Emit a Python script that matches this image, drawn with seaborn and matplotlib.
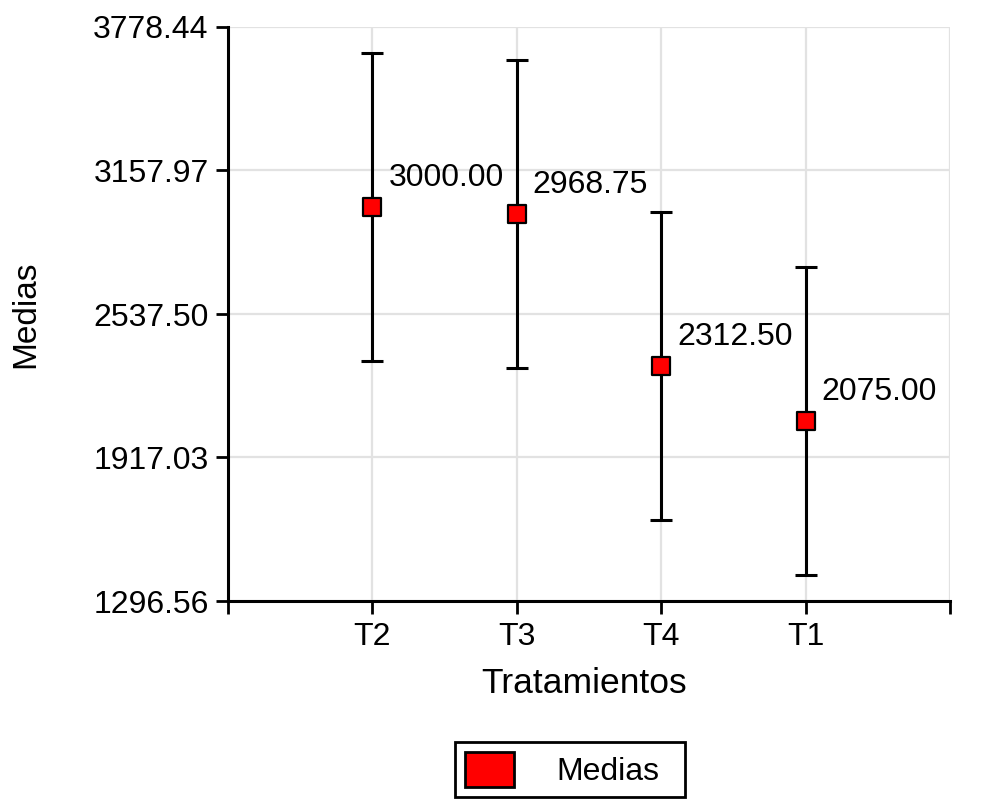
import numpy as np
import pandas as pd
import matplotlib
matplotlib.use("Agg")
import matplotlib.pyplot as plt
from matplotlib.patches import Patch
import seaborn as sns

# ---- data ----
tratamientos = ["T2", "T3", "T4", "T1"]
medias = [3000.00, 2968.75, 2312.50, 2075.00]
errores = [665.0, 665.0, 665.0, 665.0]
y_ticks = [1296.56, 1917.03, 2537.50, 3157.97, 3778.44]
y_tick_labels = ["1296.56", "1917.03", "2537.50", "3157.97", "3778.44"]
x_label = "Tratamientos"
y_label = "Medias"
legend_label = "Medias"

sns.set_style("white")
plt.rcParams["font.family"] = ["Liberation Sans", "DejaVu Sans"]
plt.rcParams["text.color"] = "black"

df = pd.DataFrame({"Tratamiento": tratamientos, "Media": medias, "Error": errores})

fig = plt.figure(figsize=(9.97, 8.05), dpi=100)
ax = fig.add_axes([228 / 997, 1 - 601 / 805, (950 - 228) / 997, (601 - 27) / 805])

xpos = np.arange(len(tratamientos))

# error bars
ax.errorbar(xpos, df["Media"], yerr=df["Error"], fmt="none", ecolor="black",
            elinewidth=2.2, capsize=8, capthick=2.2, zorder=2)

# points
sns.scatterplot(data=df, x="Tratamiento", y="Media", marker="s", s=150,
                color="#ff0000", edgecolor="black", linewidth=1.6,
                ax=ax, zorder=3, legend=False)

# value labels
for i, m in enumerate(df["Media"]):
    ax.annotate(f"{m:.2f}", (i, m), xytext=(11.5, 21), textcoords="offset points",
                ha="left", va="center", fontsize=23, color="black")

ax.set_xlim(-1, len(tratamientos))
ax.set_xticks(np.arange(-1, len(tratamientos) + 1))
ax.set_xticklabels([""] + tratamientos + [""])
ax.set_ylim(y_ticks[0], y_ticks[-1])
ax.set_yticks(y_ticks)
ax.set_yticklabels(y_tick_labels)

ax.grid(True, color="#e2e2e2", linewidth=1.6, zorder=0)
ax.set_axisbelow(True)

for s in ["top", "right"]:
    ax.spines[s].set_visible(False)
for s in ["left", "bottom"]:
    ax.spines[s].set_color("black")
    ax.spines[s].set_linewidth(2.2)

ax.tick_params(axis="both", which="major", bottom=True, left=True,
               direction="out", length=9, width=2, color="black",
               labelsize=23, labelcolor="black")
ax.tick_params(axis="y", pad=5)
ax.tick_params(axis="x", pad=6)

ax.set_xlabel(x_label, fontsize=25.5, color="black")
ax.set_ylabel(y_label, fontsize=24, color="black")
ax.xaxis.label.set_va("center")
ax.xaxis.set_label_coords((584 - 228) / 722, (601 - 683) / 574)
ax.yaxis.label.set_va("center")
ax.yaxis.set_label_coords((26 - 228) / 722, 0.5)

handle = Patch(facecolor="#ff0000", edgecolor="black", linewidth=2)
leg = fig.legend(handles=[handle], labels=[legend_label], loc="upper left",
                 bbox_to_anchor=(455 / 997, 1 - 742 / 805 - 0.1, 230 / 997, 0.1),
                 mode="expand", frameon=True,
                 fancybox=False, framealpha=1, edgecolor="black", fontsize=23,
                 handlelength=1.56, handleheight=1.34, handletextpad=1.3,
                 borderpad=0.3, borderaxespad=0, labelcolor="black")
leg.get_frame().set_linewidth(2)

fig.savefig("out.png", dpi=100)
